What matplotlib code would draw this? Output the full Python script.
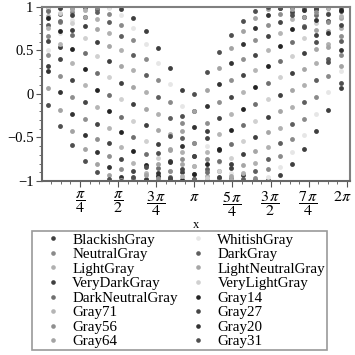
import matplotlib
matplotlib.use("Agg")
import matplotlib.pyplot as plt
import matplotlib.transforms as mtransforms
import numpy as np

plt.rcParams['font.family'] = ['Liberation Serif', 'DejaVu Serif']
plt.rcParams['mathtext.fontset'] = 'stix'

# sample positions (radians)
x = [0.126, 0.377, 0.628, 0.880, 1.131, 1.382, 1.634, 1.885, 2.136, 2.388,
     2.639, 2.890, 3.142, 3.393, 3.644, 3.896, 4.147, 4.398, 4.650, 4.901,
     5.152, 5.404, 5.655, 5.906, 6.158]

names = ["BlackishGray", "WhitishGray", "NeutralGray", "DarkGray",
         "LightGray", "LightNeutralGray", "VeryDarkGray", "VeryLightGray",
         "DarkNeutralGray", "Gray14", "Gray71", "Gray27",
         "Gray56", "Gray20", "Gray64", "Gray31"]

colors = ["#3f3f3f", "#e6e6e6", "#8a8a8a", "#5e5e5e",
          "#b0b0b0", "#a6a6a6", "#404040", "#d0d0d0",
          "#707070", "#242424", "#b5b5b5", "#454545",
          "#8f8f8f", "#333333", "#a3a3a3", "#4f4f4f"]

blackish_gray = [0.32, 0.54, 0.73, 0.88, 0.97, 1.00, 0.97, 0.87, 0.72, 0.53, 0.30, 0.05, -0.20,
                 -0.43, -0.64, -0.81, -0.93, -0.99, -0.99, -0.93, -0.80, -0.63, -0.42, -0.18, 0.07]
whitish_gray = [0.50, 0.70, 0.85, 0.96, 1.00, 0.98, 0.90, 0.76, 0.57, 0.35, 0.11, -0.14, -0.38,
                -0.60, -0.78, -0.91, -0.99, -1.00, -0.95, -0.84, -0.67, -0.47, -0.23, 0.02, 0.26]
neutral_gray = [0.66, 0.82, 0.94, 0.99, 0.99, 0.92, 0.79, 0.62, 0.40, 0.16, -0.09, -0.33, -0.56,
                -0.75, -0.89, -0.97, -1.00, -0.96, -0.86, -0.71, -0.52, -0.29, -0.04, 0.21, 0.45]
dark_gray = [0.79, 0.92, 0.99, 1.00, 0.94, 0.83, 0.66, 0.45, 0.22, -0.03, -0.28, -0.51, -0.71,
             -0.86, -0.96, -1.00, -0.98, -0.89, -0.75, -0.56, -0.34, -0.09, 0.16, 0.40, 0.61]
light_gray = [0.89, 0.98, 1.00, 0.96, 0.86, 0.70, 0.50, 0.27, 0.02, -0.23, -0.46, -0.67, -0.83,
              -0.94, -1.00, -0.99, -0.91, -0.79, -0.61, -0.39, -0.15, 0.10, 0.35, 0.57, 0.76]
light_neutral_gray = [0.96, 1.00, 0.97, 0.88, 0.74, 0.55, 0.32, 0.08, -0.17, -0.41, -0.63, -0.80, -0.92,
                      -0.99, -0.99, -0.94, -0.82, -0.65, -0.44, -0.20, 0.05, 0.29, 0.52, 0.72, 0.87]
very_dark_gray = [1.00, 0.98, 0.91, 0.78, 0.59, 0.38, 0.13, -0.12, -0.36, -0.58, -0.77, -0.90, -0.98,
                  -1.00, -0.95, -0.85, -0.69, -0.49, -0.26, -0.01, 0.24, 0.47, 0.68, 0.84, 0.95]
very_light_gray = [0.99, 0.93, 0.81, 0.64, 0.43, 0.19, -0.06, -0.31, -0.54, -0.73, -0.88, -0.97, -1.00,
                   -0.97, -0.88, -0.73, -0.54, -0.31, -0.06, 0.19, 0.43, 0.64, 0.81, 0.93, 0.99]
dark_neutral_gray = [0.95, 0.84, 0.68, 0.47, 0.24, -0.01, -0.26, -0.49, -0.69, -0.85, -0.95, -1.00, -0.98,
                     -0.90, -0.77, -0.58, -0.36, -0.12, 0.13, 0.38, 0.59, 0.78, 0.91, 0.98, 1.00]
gray14 = [0.87, 0.72, 0.52, 0.29, 0.05, -0.20, -0.44, -0.65, -0.82, -0.94, -0.99, -0.99, -0.92,
          -0.80, -0.63, -0.41, -0.17, 0.08, 0.32, 0.55, 0.74, 0.88, 0.97, 1.00, 0.96]
gray71 = [0.76, 0.57, 0.35, 0.10, -0.15, -0.39, -0.61, -0.79, -0.91, -0.99, -1.00, -0.94, -0.83,
          -0.67, -0.46, -0.23, 0.02, 0.27, 0.50, 0.70, 0.86, 0.96, 1.00, 0.98, 0.89]
gray27 = [0.61, 0.40, 0.16, -0.09, -0.34, -0.56, -0.75, -0.89, -0.98, -1.00, -0.96, -0.86, -0.71,
          -0.51, -0.28, -0.03, 0.22, 0.45, 0.66, 0.83, 0.94, 1.00, 0.99, 0.92, 0.79]
gray56 = [0.45, 0.21, -0.04, -0.29, -0.52, -0.71, -0.86, -0.96, -1.00, -0.97, -0.89, -0.75, -0.56,
          -0.33, -0.09, 0.16, 0.40, 0.62, 0.79, 0.92, 0.99, 0.99, 0.94, 0.82, 0.66]
gray20 = [0.26, 0.02, -0.23, -0.47, -0.67, -0.84, -0.95, -1.00, -0.99, -0.91, -0.78, -0.60, -0.38,
          -0.14, 0.11, 0.35, 0.57, 0.76, 0.90, 0.98, 1.00, 0.96, 0.85, 0.70, 0.50]
gray64 = [0.07, -0.18, -0.42, -0.63, -0.80, -0.93, -0.99, -0.99, -0.93, -0.81, -0.64, -0.43, -0.20,
          0.05, 0.30, 0.53, 0.72, 0.87, 0.97, 1.00, 0.97, 0.88, 0.73, 0.54, 0.32]
gray31 = [-0.13, -0.37, -0.59, -0.77, -0.90, -0.98, -1.00, -0.95, -0.84, -0.68, -0.48, -0.25, 0.00,
          0.25, 0.48, 0.68, 0.84, 0.95, 1.00, 0.98, 0.90, 0.77, 0.59, 0.37, 0.13]

series = [blackish_gray, whitish_gray, neutral_gray, dark_gray,
          light_gray, light_neutral_gray, very_dark_gray, very_light_gray,
          dark_neutral_gray, gray14, gray71, gray27,
          gray56, gray20, gray64, gray31]

xticks = [np.pi / 4, np.pi / 2, 3 * np.pi / 4, np.pi, 5 * np.pi / 4, 3 * np.pi / 2, 7 * np.pi / 4, 2 * np.pi]
xticklabels = [r'$\dfrac{\pi}{4}$', r'$\dfrac{\pi}{2}$', r'$\dfrac{3\,\pi}{4}$', r'$\pi$',
               r'$\dfrac{5\,\pi}{4}$', r'$\dfrac{3\,\pi}{2}$', r'$\dfrac{7\,\pi}{4}$', r'$2\pi$']
yticks = [-1, -0.5, 0, 0.5, 1]
yticklabels = ['\u22121', '\u22120.5', '0', '0.5', '1']

fig = plt.figure(figsize=(3.55, 3.55), dpi=100)
ax = fig.add_axes([0.118, 0.49, 0.868, 0.491])

handles = []
for name, col, ys in zip(names, colors, series):
    h, = ax.plot(x, ys, linestyle='none', marker='o', markersize=3.5,
                 markeredgewidth=0, color=col, label=name)
    handles.append(h)

ax.set_xlim(0, 6.35)
ax.set_ylim(-1, 1)
ax.set_xticks(xticks)
ax.set_xticklabels(xticklabels, fontsize=11.5)
ax.set_xticks(np.arange(1, 32) * np.pi / 16, minor=True)
ax.set_yticks(yticks)
ax.set_yticklabels(yticklabels, fontsize=10.5)
ax.set_yticks(np.arange(-10, 11) / 10, minor=True)
ax.tick_params(which='major', length=4, width=0.8, color='#555555', pad=2)
ax.tick_params(which='minor', length=2.5, width=0.6, color='#555555')
for s in ax.spines.values():
    s.set_color('#808080')
    s.set_linewidth(1.5)
ax.spines['left'].set_color('#666666')
ax.spines['bottom'].set_color('#666666')
ax.set_xlabel('x', fontsize=9)
ax.xaxis.set_label_coords(0.5, -0.215)

# keep the last tick label inside the canvas
last = ax.get_xticklabels()[-1]
last.set_transform(last.get_transform() +
                   mtransforms.ScaledTranslation(-4 / 100, 0, fig.dpi_scale_trans))

# legend is filled row by row in the reference
order = list(range(0, 16, 2)) + list(range(1, 16, 2))
leg = fig.legend([handles[i] for i in order], [names[i] for i in order],
                 ncol=2, loc='upper left', bbox_to_anchor=(0.09, 0.349),
                 fontsize=10.8, frameon=True, fancybox=False,
                 handlelength=2.55, handletextpad=0.0, labelspacing=0.07,
                 borderpad=0.13, columnspacing=0.1, borderaxespad=0,
                 markerscale=0.95)
leg.get_frame().set_edgecolor('#808080')
leg.get_frame().set_linewidth(1.2)

fig.savefig('out.png', dpi=100)
